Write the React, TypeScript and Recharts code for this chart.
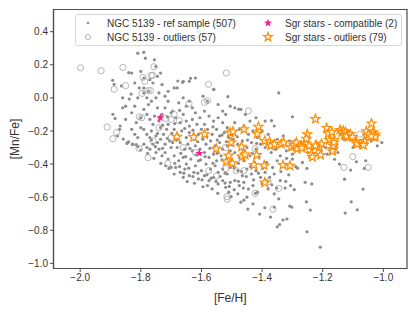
import { ScatterChart, Scatter, XAxis, YAxis, ReferenceArea } from "recharts";

// [Fe/H], [Mn/Fe] pairs
const refSample: [number, number][] = [
  // upper tail
  [-1.81, 0.27], [-1.79, 0.275], [-1.785, 0.24], [-1.755, 0.23], [-1.75, 0.19], [-1.83, 0.15],
  [-1.8, 0.16], [-1.735, 0.15], [-1.79, 0.12], [-1.77, 0.11], [-1.745, 0.13], [-1.76, 0.09],
  [-1.73, 0.08], [-1.71, 0.04], [-1.68, 0.06], [-1.66, 0.1], [-1.64, 0.1], [-1.62, 0.12],
  [-1.61, 0.4], [-1.636, 0.118], [-1.678, 0.102], [-1.662, 0.094], [-1.559, 0.052], [-1.513, 0.007],
  [-1.345, 0.03], [-1.3, -0.114], [-1.477, -0.068], [-1.369, -0.138],
  // left edge
  [-1.893, 0.106], [-1.888, 0.082], [-1.864, 0.072], [-1.84, 0.152], [-1.838, -0.007], [-1.832, 0.023],
  [-1.892, -0.099], [-1.885, -0.124], [-1.868, -0.17], [-1.877, -0.23], [-1.87, -0.19], [-1.846, -0.275],
  [-1.84, -0.265], [-1.828, -0.28], [-1.815, -0.283], [-1.82, -0.22], [-1.81, -0.24], [-1.83, -0.19],
  [-1.85, -0.13], [-1.83, -0.09], [-1.82, -0.05], [-1.81, 0.0], [-1.805, 0.06], [-1.82, 0.09],
  [-1.86, 0.0], [-1.85, -0.05], [-1.8, -0.12], [-1.8, -0.18], [-1.815, -0.15], [-1.86, -0.06],
  [-1.858, -0.249], [-1.843, -0.269], [-1.826, -0.281], [-1.81, -0.295], [-1.8, -0.315],
  // -1.8 .. -1.7
  [-1.79, 0.03], [-1.78, 0.0], [-1.775, -0.04], [-1.765, -0.02], [-1.75, 0.0], [-1.745, -0.06],
  [-1.79, -0.07], [-1.78, -0.1], [-1.77, -0.13], [-1.76, -0.16], [-1.755, -0.11], [-1.74, -0.14],
  [-1.735, -0.18], [-1.79, -0.19], [-1.78, -0.22], [-1.77, -0.24], [-1.765, -0.2], [-1.75, -0.23],
  [-1.745, -0.27], [-1.735, -0.25], [-1.725, -0.22], [-1.715, -0.19], [-1.71, -0.16], [-1.79, -0.28],
  [-1.78, -0.3], [-1.77, -0.31], [-1.76, -0.28], [-1.75, -0.33], [-1.74, -0.31], [-1.73, -0.35],
  [-1.72, -0.33], [-1.71, -0.37], [-1.7, -0.3], [-1.705, -0.26], [-1.72, -0.28], [-1.73, -0.1],
  [-1.72, -0.06], [-1.71, -0.02], [-1.7, -0.09], [-1.757, -0.365], [-1.734, -0.396], [-1.718, -0.41],
  [-1.707, -0.426], [-1.778, -0.335], [-1.79, 0.06], [-1.775, 0.04], [-1.74, 0.03], [-1.72, 0.01],
  [-1.765, -0.255], [-1.752, -0.295], [-1.728, -0.305], [-1.712, -0.245], [-1.745, -0.215],
  [-1.728, -0.165], [-1.712, -0.115],
  // -1.7 .. -1.6
  [-1.69, 0.06], [-1.675, -0.03], [-1.66, 0.0], [-1.65, -0.05], [-1.64, -0.02], [-1.63, -0.06],
  [-1.62, -0.09], [-1.695, -0.08], [-1.685, -0.12], [-1.67, -0.15], [-1.66, -0.1], [-1.65, -0.14],
  [-1.64, -0.17], [-1.63, -0.13], [-1.615, -0.16], [-1.605, -0.12], [-1.69, -0.19], [-1.68, -0.22],
  [-1.665, -0.2], [-1.65, -0.24], [-1.64, -0.21], [-1.625, -0.25], [-1.61, -0.22], [-1.6, -0.19],
  [-1.695, -0.27], [-1.68, -0.3], [-1.67, -0.27], [-1.655, -0.31], [-1.645, -0.28], [-1.63, -0.32],
  [-1.62, -0.29], [-1.605, -0.31], [-1.69, -0.35], [-1.675, -0.38], [-1.66, -0.36], [-1.65, -0.4],
  [-1.635, -0.37], [-1.62, -0.41], [-1.61, -0.38], [-1.685, -0.42], [-1.67, -0.45], [-1.655, -0.43],
  [-1.64, -0.47], [-1.625, -0.45], [-1.61, -0.49], [-1.6, -0.44], [-1.66, -0.48], [-1.647, -0.506],
  [-1.623, -0.516], [-1.595, -0.537], [-1.69, -0.46], [-1.7, -0.42],
  [-1.698, -0.215], [-1.682, -0.255], [-1.668, -0.335], [-1.652, -0.355], [-1.638, -0.305],
  [-1.618, -0.345], [-1.688, -0.395], [-1.672, -0.415], [-1.658, -0.455], [-1.642, -0.425],
  [-1.628, -0.475], [-1.612, -0.455], [-1.688, -0.155], [-1.672, -0.075], [-1.655, -0.185],
  [-1.628, -0.195], [-1.612, -0.265],
  // -1.6 .. -1.5
  [-1.595, 0.01], [-1.58, -0.02], [-1.56, 0.05], [-1.545, -0.04], [-1.53, -0.08], [-1.59, -0.08],
  [-1.575, -0.11], [-1.56, -0.14], [-1.545, -0.12], [-1.53, -0.15], [-1.515, -0.18], [-1.59, -0.16],
  [-1.58, -0.19], [-1.565, -0.22], [-1.55, -0.19], [-1.54, -0.23], [-1.525, -0.21], [-1.51, -0.24],
  [-1.595, -0.25], [-1.585, -0.28], [-1.57, -0.26], [-1.555, -0.29], [-1.54, -0.27], [-1.53, -0.31],
  [-1.515, -0.29], [-1.505, -0.32], [-1.59, -0.33], [-1.575, -0.36], [-1.56, -0.34], [-1.55, -0.38],
  [-1.535, -0.35], [-1.52, -0.39], [-1.51, -0.36], [-1.585, -0.4], [-1.57, -0.43], [-1.555, -0.41],
  [-1.545, -0.45], [-1.53, -0.43], [-1.515, -0.46], [-1.505, -0.42], [-1.59, -0.47], [-1.575, -0.5],
  [-1.56, -0.48], [-1.545, -0.52], [-1.53, -0.5], [-1.52, -0.54], [-1.505, -0.51], [-1.565, -0.55],
  [-1.546, -0.577], [-1.51, -0.57], [-1.502, -0.597], [-1.58, -0.53], [-1.52, -0.1], [-1.505, -0.05],
  [-1.603, -0.375], [-1.588, -0.355], [-1.572, -0.305], [-1.562, -0.395], [-1.548, -0.335],
  [-1.532, -0.375], [-1.522, -0.455], [-1.508, -0.385], [-1.598, -0.495], [-1.582, -0.465],
  [-1.568, -0.485], [-1.552, -0.505], [-1.538, -0.475], [-1.522, -0.515], [-1.508, -0.535],
  [-1.582, -0.235], [-1.562, -0.175], [-1.548, -0.255], [-1.532, -0.225], [-1.518, -0.265],
  // -1.5 .. -1.4
  [-1.49, -0.06], [-1.47, -0.07], [-1.455, -0.1], [-1.44, -0.14], [-1.42, -0.12], [-1.49, -0.15],
  [-1.475, -0.19], [-1.46, -0.17], [-1.445, -0.22], [-1.43, -0.2], [-1.415, -0.24], [-1.4, -0.2],
  [-1.495, -0.25], [-1.48, -0.28], [-1.465, -0.26], [-1.45, -0.3], [-1.435, -0.27], [-1.42, -0.31],
  [-1.405, -0.28], [-1.49, -0.33], [-1.475, -0.36], [-1.46, -0.38], [-1.44, -0.35], [-1.425, -0.39],
  [-1.41, -0.36], [-1.495, -0.41], [-1.48, -0.44], [-1.465, -0.47], [-1.45, -0.43], [-1.435, -0.46],
  [-1.42, -0.44], [-1.405, -0.48], [-1.49, -0.5], [-1.475, -0.53], [-1.46, -0.51], [-1.445, -0.55],
  [-1.43, -0.53], [-1.415, -0.57], [-1.4, -0.52], [-1.48, -0.58], [-1.46, -0.618], [-1.447, -0.672],
  [-1.43, -0.64], [-1.408, -0.702], [-1.422, -0.577], [-1.391, -0.664], [-1.45, -0.6], [-1.47, -0.63],
  [-1.492, -0.425], [-1.478, -0.395], [-1.468, -0.445], [-1.452, -0.475], [-1.438, -0.415],
  [-1.428, -0.495], [-1.412, -0.455], [-1.492, -0.555], [-1.478, -0.505], [-1.462, -0.545],
  [-1.498, -0.285], [-1.482, -0.235], [-1.462, -0.315], [-1.448, -0.255], [-1.432, -0.335],
  [-1.418, -0.275],
  // -1.4 .. -1.3
  [-1.39, -0.14], [-1.36, -0.17], [-1.38, -0.22], [-1.35, -0.25], [-1.33, -0.23], [-1.31, -0.26],
  [-1.39, -0.3], [-1.37, -0.33], [-1.355, -0.31], [-1.34, -0.35], [-1.32, -0.32], [-1.3, -0.34],
  [-1.385, -0.39], [-1.365, -0.42], [-1.35, -0.38], [-1.33, -0.4], [-1.39, -0.45], [-1.375, -0.48],
  [-1.36, -0.46], [-1.34, -0.5], [-1.38, -0.55], [-1.36, -0.58], [-1.345, -0.61], [-1.372, -0.72],
  [-1.35, -0.779], [-1.342, -0.765], [-1.331, -0.738], [-1.318, -0.732], [-1.36, -0.66],
  [-1.398, -0.425], [-1.382, -0.505], [-1.368, -0.525], [-1.352, -0.545], [-1.338, -0.445],
  [-1.322, -0.505], [-1.312, -0.465],
  // -1.3 .. -1.2
  [-1.29, -0.26], [-1.27, -0.29], [-1.25, -0.33], [-1.23, -0.3], [-1.21, -0.31], [-1.319, -0.365],
  [-1.3, -0.37], [-1.289, -0.416], [-1.283, -0.425], [-1.267, -0.39], [-1.252, -0.426], [-1.309, -0.654],
  [-1.302, -0.66], [-1.324, -0.545], [-1.306, -0.53], [-1.294, -0.555], [-1.258, -0.51],
  [-1.236, -0.52], [-1.254, -0.628], [-1.241, -0.678], [-1.252, -0.809], [-1.208, -0.902],
  // -1.2 .. -1.0
  [-1.161, -0.371], [-1.128, -0.491], [-1.067, -0.551], [-1.106, -0.628], [-1.086, -0.676],
  [-1.126, -0.696], [-1.145, -0.4], [-1.108, -0.436], [-1.089, -0.386], [-1.058, -0.38],
  [-1.063, -0.426], [-1.19, -0.3], [-1.17, -0.27], [-1.13, -0.25], [-1.1, -0.3], [-1.07, -0.28],
  [-1.04, -0.26], [-1.005, -0.27], [-1.02, -0.29], [-1.15, -0.33], [-1.185, -0.34],
];

const refOutliers: [number, number][] = [
  [-1.999, 0.182], [-1.931, 0.164], [-1.859, 0.184], [-1.757, 0.188], [-1.888, 0.052], [-1.85, 0.074],
  [-1.787, 0.1], [-1.793, 0.124], [-1.775, 0.044], [-1.768, 0.044], [-1.796, 0.027], [-1.766, 0.136],
  [-1.761, 0.136], [-1.772, 0.334], [-1.75, 0.334], [-1.518, 0.15], [-1.577, 0.082], [-1.58, -0.017],
  [-1.59, -0.027], [-1.641, -0.035], [-1.445, -0.079], [-1.911, -0.176], [-1.88, -0.21], [-1.892, -0.247],
  [-1.805, -0.114], [-1.797, -0.12], [-1.717, -0.124], [-1.673, -0.138], [-1.776, -0.362], [-1.806, -0.305],
  [-1.711, -0.396], [-1.576, -0.44], [-1.551, -0.472], [-1.52, -0.428], [-1.516, -0.597], [-1.515, -0.612],
  [-1.423, -0.307], [-1.423, -0.577], [-1.38, -0.506], [-1.364, -0.673], [-1.345, -0.547], [-1.228, -0.311],
  [-1.101, -0.355], [-1.13, -0.42], [-1.05, -0.42], [-1.078, -0.22], [-1.76, -0.26], [-1.7, -0.24],
  [-1.66, -0.3], [-1.74, -0.18], [-1.46, -0.44], [-1.52, -0.3], [-1.7, -0.13], [-1.69, -0.1],
  [-1.62, -0.33], [-1.485, -0.44], [-1.16, -0.3],
];

const sgrCompatible: [number, number][] = [
  [-1.736, -0.12], [-1.607, -0.335],
];

const sgrOutliers: [number, number][] = [
  [-1.681, -0.235], [-1.626, -0.237], [-1.59, -0.22], [-1.551, -0.307], [-1.518, -0.385], [-1.51, -0.349],
  [-1.505, -0.21], [-1.496, -0.204], [-1.502, -0.27], [-1.498, -0.395], [-1.468, -0.295], [-1.466, -0.355],
  [-1.46, -0.19], [-1.456, -0.343], [-1.427, -0.405], [-1.418, -0.345], [-1.416, -0.218], [-1.412, -0.175],
  [-1.391, -0.512], [-1.393, -0.409], [-1.391, -0.26], [-1.375, -0.265], [-1.372, -0.289], [-1.359, -0.281],
  [-1.337, -0.279], [-1.331, -0.406], [-1.329, -0.27], [-1.308, -0.41], [-1.304, -0.297], [-1.295, -0.287],
  [-1.287, -0.27], [-1.284, -0.307], [-1.27, -0.289], [-1.261, -0.277], [-1.254, -0.281], [-1.251, -0.22],
  [-1.254, -0.247], [-1.245, -0.289], [-1.237, -0.339], [-1.234, -0.357], [-1.224, -0.128], [-1.221, -0.289],
  [-1.211, -0.297], [-1.207, -0.345], [-1.204, -0.277], [-1.187, -0.182], [-1.182, -0.216], [-1.178, -0.255],
  [-1.17, -0.206], [-1.168, -0.309], [-1.168, -0.323], [-1.165, -0.289], [-1.162, -0.253], [-1.143, -0.194],
  [-1.137, -0.208], [-1.132, -0.2], [-1.129, -0.224], [-1.125, -0.206], [-1.118, -0.22], [-1.116, -0.236],
  [-1.109, -0.22], [-1.09, -0.265], [-1.087, -0.279], [-1.068, -0.281], [-1.063, -0.261], [-1.056, -0.202],
  [-1.049, -0.222], [-1.039, -0.155], [-1.034, -0.208], [-1.031, -0.236], [-1.028, -0.222], [-1.027, -0.234],
  [-1.269, -0.303], [-1.224, -0.289], [-1.163, -0.27], [-1.122, -0.232], [-1.066, -0.285], [-1.04, -0.232],
  [-1.102, -0.236],
];

const xTicks = [-2.0, -1.8, -1.6, -1.4, -1.2, -1.0];
const yTicks = [0.4, 0.2, 0.0, -0.2, -0.4, -0.6, -0.8, -1.0];
const xDomain = [-2.088, -0.922];
const yDomain = [-1.031, 0.534];

const toPoints = (rows: [number, number][]) => rows.map(([x, y]) => ({ x, y }));

const FONT = "'Liberation Sans', Arial, sans-serif";
const INK = "#333333";
const FRAME = "#4d4d4d";
const GREY = "#8c8c8c";
const PINK = "#ff1493";
const ORANGE = "#ff8c00";

const fmt = (v: number) => v.toFixed(1).replace("-", "\u2212");

function starPath(cx: number, cy: number, R: number, r: number) {
  let d = "";
  for (let i = 0; i < 10; i++) {
    const a = ((-90 + i * 36) * Math.PI) / 180;
    const rad = i % 2 === 0 ? R : r;
    d += `${i === 0 ? "M" : "L"}${cx + rad * Math.cos(a)},${cy + rad * Math.sin(a)}`;
  }
  return d + "Z";
}

const Dot = (p: any) => <circle cx={p.cx} cy={p.cy} r={1.6} fill={GREY} />;
const Ring = (p: any) => (
  <circle cx={p.cx} cy={p.cy} r={3.1} fill="none" stroke="#a3a3a3" strokeWidth={0.8} />
);
const PinkStar = (p: any) => <path d={starPath(p.cx, p.cy, 4.2, 1.7)} fill={PINK} />;
const OrangeStar = (p: any) => (
  <path d={starPath(p.cx, p.cy, 4.8, 2.0)} fill="#fff3e0" stroke={ORANGE} strokeWidth={1.2} />
);

function LegendItem({ left, top, gap, marker, text }: { left: number; top: number; gap: number; marker: React.ReactNode; text: string }) {
  return (
    <div style={{ position: "absolute", left, top, display: "flex", alignItems: "center", height: 14, whiteSpace: "nowrap" }}>
      <svg width={14} height={12} style={{ marginRight: gap }}>
        {marker}
      </svg>
      <span>{text}</span>
    </div>
  );
}

export default function App() {
  return (
    <div style={{ position: "absolute", left: 0, top: 0, width: 419, height: 314, background: "#fff" }}>
      <ScatterChart width={419} height={314} margin={{ top: 9.5, right: 12, bottom: 0, left: 0 }}>
        <XAxis
          type="number"
          dataKey="x"
          domain={xDomain}
          ticks={xTicks}
          allowDataOverflow
          tickFormatter={fmt}
          tick={{ fontSize: 10, fill: INK, fontFamily: FONT }}
          tickSize={3.5}
          tickLine={{ stroke: FRAME }}
          axisLine={{ stroke: FRAME, strokeWidth: 1.2 }}
          height={45.5}
          label={{ value: "[Fe/H]", position: "insideBottom", offset: 12, fontSize: 12, fill: INK, fontFamily: FONT }}
        />
        <YAxis
          type="number"
          dataKey="y"
          domain={yDomain}
          ticks={yTicks}
          allowDataOverflow
          tickFormatter={fmt}
          tick={{ fontSize: 10, fill: INK, fontFamily: FONT }}
          tickSize={3.5}
          tickLine={{ stroke: FRAME }}
          axisLine={{ stroke: FRAME, strokeWidth: 1.2 }}
          width={53.5}
          label={{ value: "[Mn/Fe]", angle: -90, position: "insideLeft", offset: 15, fontSize: 12, fill: INK, fontFamily: FONT, style: { textAnchor: "middle" } }}
        />
        <ReferenceArea
          x1={xDomain[0]}
          x2={xDomain[1]}
          y1={yDomain[0]}
          y2={yDomain[1]}
          fill="none"
          fillOpacity={0}
          stroke={FRAME}
          strokeWidth={1.2}
          strokeOpacity={1}
          ifOverflow="visible"
        />
        <Scatter data={toPoints(refSample)} shape={Dot} isAnimationActive={false} />
        <Scatter data={toPoints(refOutliers)} shape={Ring} isAnimationActive={false} />
        <Scatter data={toPoints(sgrCompatible)} shape={PinkStar} isAnimationActive={false} />
        <Scatter data={toPoints(sgrOutliers)} shape={OrangeStar} isAnimationActive={false} />
      </ScatterChart>
      <div
        style={{
          position: "absolute",
          left: 75,
          top: 14,
          width: 327,
          height: 32,
          boxSizing: "border-box",
          border: "1px solid #d6d6d6",
          borderRadius: 3,
          background: "rgba(255,255,255,0.8)",
          fontFamily: FONT,
          fontSize: 10,
          color: INK,
        }}
      >
        <LegendItem left={5} top={1} gap={12} marker={<circle cx={7} cy={6} r={1.3} fill={GREY} />} text="NGC 5139 - ref sample (507)" />
        <LegendItem left={5} top={15} gap={12} marker={<circle cx={7} cy={6} r={2.6} fill="none" stroke="#a3a3a3" strokeWidth={0.8} />} text="NGC 5139 - outliers (57)" />
        <LegendItem left={185} top={1} gap={10} marker={<path d={starPath(7, 6, 4.2, 1.7)} fill={PINK} />} text="Sgr stars - compatible (2)" />
        <LegendItem left={185} top={15} gap={10} marker={<path d={starPath(7, 6, 4.6, 1.9)} fill="#fff3e0" stroke={ORANGE} strokeWidth={1.2} />} text="Sgr stars - outliers (79)" />
      </div>
    </div>
  );
}
